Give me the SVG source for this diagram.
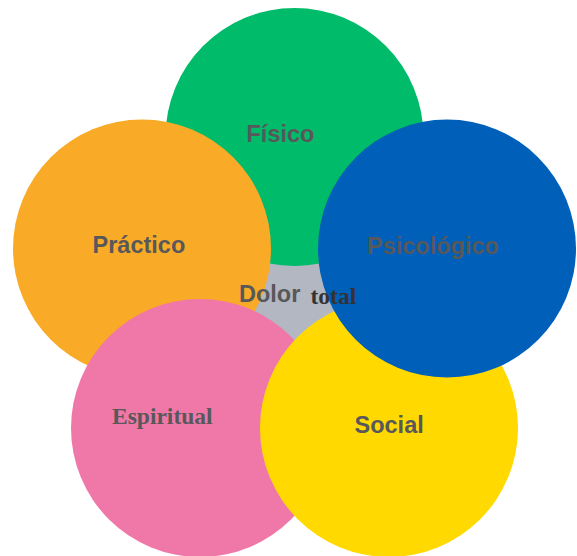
<svg xmlns="http://www.w3.org/2000/svg" width="577" height="556" viewBox="0 0 577 556">
<style>
.s{font-family:"Liberation Sans",Arial,sans-serif;font-weight:bold;font-size:23.5px;fill:#58585a}
.r{font-family:"Liberation Serif","Times New Roman",serif;font-weight:bold;font-size:23.5px;fill:#58585a}
</style>
<rect width="577" height="556" fill="#ffffff"/>
<g id="centro"><circle cx="295" cy="295" r="70" fill="#b3b7c2"/></g>
<g id="fisico"><circle cx="294.5" cy="137" r="129" fill="#00bb6a"/></g>
<g id="practico"><circle cx="142" cy="248.5" r="129" fill="#f9aa26"/></g>
<g id="espiritual"><circle cx="200" cy="428" r="129" fill="#f078a8"/></g>
<g id="social"><circle cx="389" cy="428" r="129" fill="#ffd900"/></g>
<g id="psicologico"><circle cx="447" cy="248.6" r="129" fill="#005fb8"/></g>
<g id="labels">
<text class="s" x="246.5" y="142">Físico</text>
<text class="s" x="92.5" y="253">Práctico</text>
<text class="s" x="367" y="253.5">Psicológico</text>
<text class="s" x="239" y="302">Dolor</text>
<text class="r" x="310.5" y="303.5" style="fill:#333333">total</text>
<text class="r" x="112" y="423.5">Espiritual</text>
<text class="s" x="354.5" y="432.5">Social</text>
</g>
<g id="connectors"/>
</svg>
